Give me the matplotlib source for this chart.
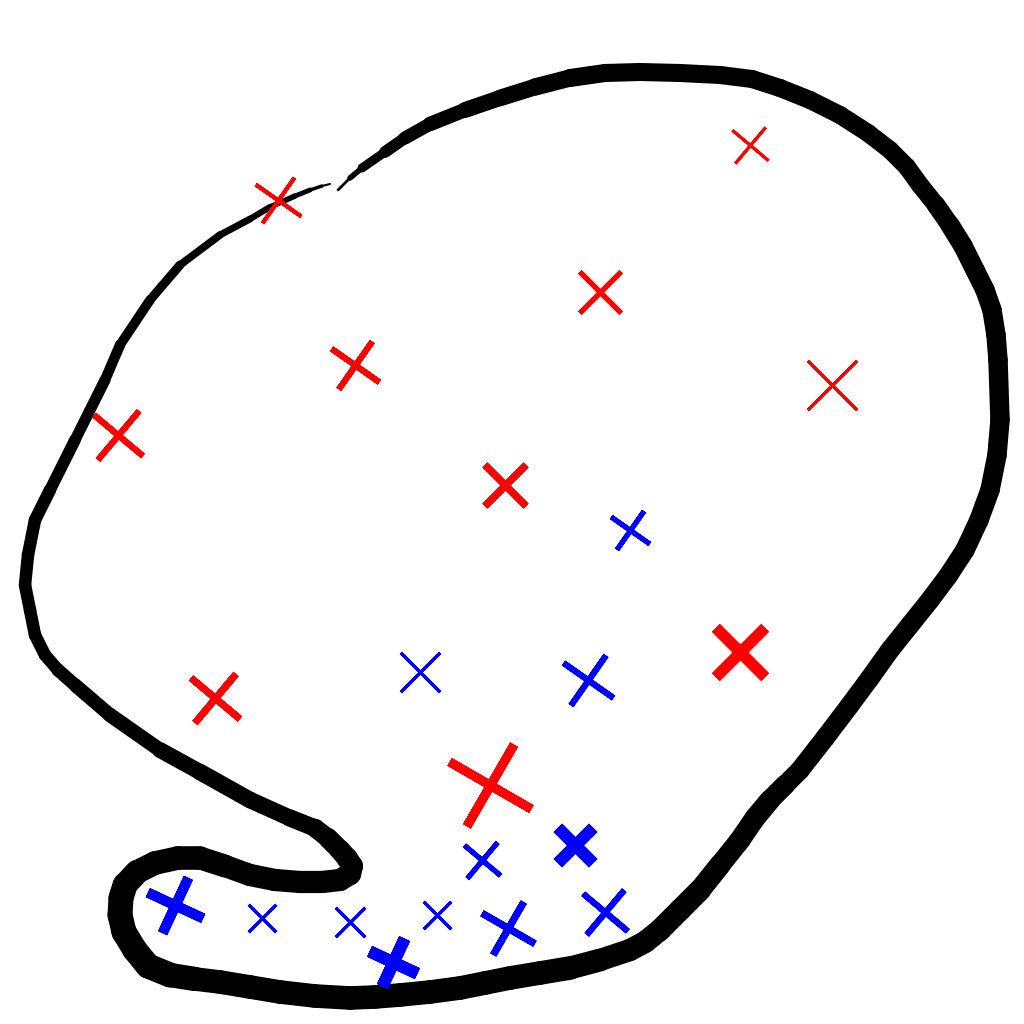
import numpy as np
import matplotlib.pyplot as plt
from matplotlib.collections import LineCollection

# boundary sketch (pixel coords of the picture)
curve_x = [338, 350, 362, 385, 405, 430, 465, 500, 535, 570, 605, 640, 680, 720, 752, 780,
           810, 840, 868, 890, 907, 920, 936, 950, 963, 975, 985, 992, 996,
           998, 1000, 997, 990, 979, 965, 948, 930, 910, 890, 870, 850, 825, 800, 785,
           770, 755, 740, 720, 700, 680, 660, 645, 630, 600, 570, 540, 510,
           485, 460, 430, 400, 375, 350, 315, 280, 250, 220, 195, 170, 148, 135, 124, 120, 121,
           125, 137, 155, 178, 200, 225, 250, 275, 300, 322, 340, 350, 352, 347,
           340, 328, 315, 290, 250, 200, 160, 110, 75, 58, 45, 35, 30, 25, 28, 35, 50, 75, 105,
           120, 150, 180, 220, 250, 270, 295, 310, 322, 330]
curve_y = [190, 178, 168, 152, 138, 124, 110, 98, 87, 78, 73, 72, 73, 75, 79, 88,
           100, 115, 133, 150, 167, 185, 205, 225, 246, 270, 290, 310, 335,
           360, 420, 455, 490, 520, 550, 576, 600, 625, 650, 678, 705, 738, 770, 785,
           800, 818, 840, 865, 890, 910, 930, 942, 950, 960, 968, 973, 978,
           983, 988, 992, 995, 997, 998, 996, 992, 987, 982, 979, 975, 966, 950, 932, 915, 898,
           885, 872, 863, 858, 858, 866, 875, 880, 882, 882, 880, 874, 866, 858,
           850, 838, 828, 818, 800, 772, 750, 715, 685, 670, 655, 635, 610, 585, 555, 520, 490, 440, 380,
           345, 300, 265, 235, 219, 207, 196, 190, 186, 184]
curve_w = [1, 3, 5, 8, 9, 10, 11, 12, 12, 13, 13, 13, 13, 13, 13, 13,
           13, 13, 13, 13, 13, 13, 13, 14, 14, 14, 14, 14, 14,
           14, 14, 14, 14, 14, 14, 14, 14, 14, 14, 14, 14, 14, 14, 14,
           15, 15, 15, 15, 16, 16, 16, 16, 16, 16, 17, 17, 17,
           17, 17, 17, 17, 17, 17, 17, 17, 17, 17, 17, 18, 18, 18, 18, 18, 18,
           18, 17, 17, 17, 17, 16, 16, 16, 16, 16, 16, 16, 16, 15,
           15, 14, 13, 12, 12, 12, 11, 10, 10, 9, 9, 9, 9, 9, 9, 9, 9, 8, 8,
           7, 7, 6, 5, 5, 4, 4, 3, 2, 1]

# red crosses: x, y, size, width, angle
red_x = [750, 278, 600, 355, 832, 118, 505, 740, 215, 490]
red_y = [145, 200, 292, 365, 385, 435, 485, 652, 698, 785]
red_s = [34, 40, 42, 42, 50, 46, 42, 50, 46, 68]
red_w = [3, 4, 5, 6, 3, 6, 7, 11, 7, 9]
red_a = [5, 10, 0, 10, 0, 5, 0, 0, 5, 15]

# blue crosses
blue_x = [630, 420, 588, 575, 482, 175, 262, 350, 437, 508, 605, 393]
blue_y = [530, 672, 680, 845, 860, 905, 918, 922, 915, 928, 912, 962]
blue_s = [34, 40, 44, 36, 34, 44, 28, 30, 28, 44, 42, 38]
blue_w = [5, 3, 6, 12, 5, 10, 3, 3, 3, 7, 6, 12]
blue_a = [10, 0, 10, 0, 5, 20, 0, 0, 0, 15, 5, 20]

fig = plt.figure(figsize=(10.24, 10.24), dpi=100)
ax = fig.add_axes([0, 0, 1, 1])
ax.set_xlim(0, 1024)
ax.set_ylim(1024, 0)
ax.axis('off')

pts = np.column_stack([curve_x, curve_y])
segs = np.stack([pts[:-1], pts[1:]], axis=1)
w = (np.array(curve_w[:-1]) + np.array(curve_w[1:])) / 2
lc = LineCollection(segs, linewidths=w, colors='black', capstyle='round',
                    joinstyle='round')
ax.add_collection(lc)

for xs, ys, ss, ws, angs, col in [(red_x, red_y, red_s, red_w, red_a, 'red'),
                                  (blue_x, blue_y, blue_s, blue_w, blue_a, 'blue')]:
    for x, y, s, lw, a in zip(xs, ys, ss, ws, angs):
        ax.plot(x, y, marker=(4, 2, 45 + a), color=col, markersize=s,
                markeredgewidth=lw * 0.72, linestyle='none')

fig.savefig('out.png', dpi=100)
